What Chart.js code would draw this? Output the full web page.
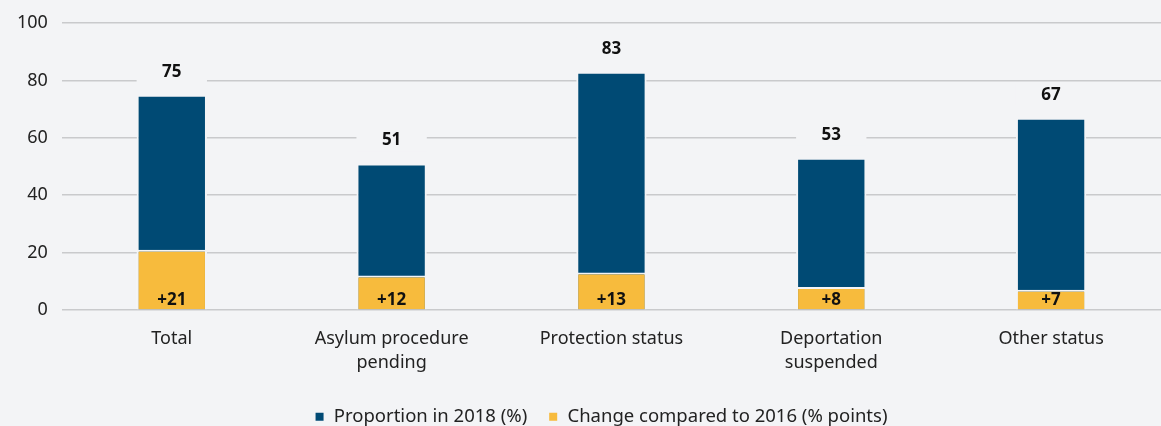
<!DOCTYPE html>
<html>
<head>
<meta charset="utf-8">
<script src="https://cdn.jsdelivr.net/npm/chart.js@4.4.1/dist/chart.umd.min.js"></script>
<style>
  html, body { margin: 0; padding: 0; background: #f3f4f6; }
  #wrap { width: 1161px; height: 426px; }
</style>
</head>
<body>
<div id="wrap"><canvas id="statusChart"></canvas></div>
<script>
var categories = ['Total', ['Asylum procedure', 'pending'], 'Protection status', ['Deportation', 'suspended'], 'Other status'];
var proportion2018 = [75, 51, 83, 53, 67];
var change2016 = [21, 12, 13, 8, 7];
var yTicks = [0, 20, 40, 60, 80, 100];

var bg = '#f3f4f6';
var FONT = "'Noto Sans', sans-serif";

// value labels above the blue bars and inside the yellow bars
var barLabels = {
    id: 'barLabels',
    afterLayout: function (chart) {
        // legend sits a bit right of centre in the original
        chart.legend.left += 19;
        chart.legend.right += 19;
    },
    afterDatasetsDraw: function (chart) {
        var ctx = chart.ctx;
        ctx.save();
        ctx.font = 'bold 17px ' + FONT;
        ctx.textAlign = 'center';
        ctx.textBaseline = 'middle';
        var blue = chart.getDatasetMeta(0);
        var yellow = chart.getDatasetMeta(1);
        blue.data.forEach(function (bar, i) {
            var w = bar.width;
            var y = bar.y - 23;
            ctx.fillStyle = bg;
            ctx.fillRect(bar.x - w / 2, y - 11, w, 22);
            ctx.fillStyle = '#111';
            ctx.fillText(String(proportion2018[i]), bar.x, y);
        });
        yellow.data.forEach(function (bar, i) {
            ctx.fillStyle = '#111';
            ctx.fillText('+' + change2016[i], bar.x, bar.base - 9);
        });
        ctx.restore();
    }
};

var ctx1 = document.getElementById('statusChart').getContext('2d');
var statusChart = new Chart(ctx1, {
    type: 'bar',
    data: {
        labels: categories,
        datasets: [{
            label: 'Proportion in 2018 (%)',
            data: proportion2018,
            backgroundColor: '#004a74',
            borderColor: bg,
            borderWidth: 2,
            order: 1
        }, {
            label: 'Change compared to 2016 (% points)',
            data: change2016,
            backgroundColor: '#f7bb3d',
            borderColor: bg,
            borderWidth: 2,
            order: 0
        }]
    },
    options: {
        responsive: true,
        maintainAspectRatio: false,
        animation: false,
        layout: { padding: { top: 0, right: 0, left: 3, bottom: -10 } },
        datasets: {
            bar: { grouped: false, barPercentage: 0.32, categoryPercentage: 1 }
        },
        scales: {
            x: {
                grid: { display: false },
                border: { display: false },
                ticks: { color: '#222', font: { family: FONT, size: 18, lineHeight: 1.35 }, padding: 9, maxRotation: 0 },
                afterFit: function (axis) { axis.height += 2; }
            },
            y: {
                min: 0,
                max: 100,
                afterBuildTicks: function (axis) {
                    axis.ticks = yTicks.map(function (v) { return { value: v }; });
                },
                grid: { color: '#c9cacc', lineWidth: 1.5, drawTicks: false },
                border: { display: false },
                ticks: { color: '#222', font: { family: FONT, size: 18, lineHeight: 1 }, padding: 14 }
            }
        },
        plugins: {
            legend: {
                position: 'bottom',
                reverse: true,
                labels: {
                    color: '#222',
                    font: { family: FONT, size: 18.5 },
                    boxWidth: 10,
                    boxHeight: 10,
                    padding: 21
                }
            },
            tooltip: { enabled: false }
        }
    },
    plugins: [barLabels]
});
</script>
</body>
</html>
